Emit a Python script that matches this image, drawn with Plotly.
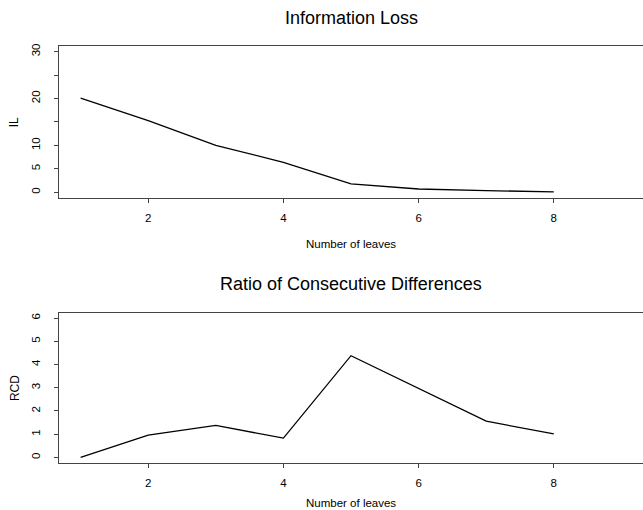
import plotly.graph_objects as go

leaves = [1, 2, 3, 4, 5, 6, 7, 8]
il_values = [20.1, 15.3, 10.0, 6.4, 1.8, 0.7, 0.35, 0.1]
rcd_values = [0.0, 0.96, 1.38, 0.83, 4.38, 2.97, 1.56, 1.01]

x_ticks = [2, 4, 6, 8]
il_ticks = [0, 5, 10, 15, 20, 25, 30]
il_ticklabels = ["0", "5", "10", "", "20", "", "30"]
rcd_ticks = [0, 1, 2, 3, 4, 5, 6]
rcd_ticklabels = ["0", "1", "2", "3", "4", "5", "6"]

W, H = 643, 510
L, R, T, B = 58.7, 0, 46, 46.7
ph = H - T - B


def py(p):
    return (H - B - p) / ph


FONT = "Liberation Sans, Arial, sans-serif"

fig = go.Figure()
fig.add_trace(go.Scatter(x=leaves, y=il_values, mode="lines",
                         line=dict(color="black", width=1.3),
                         xaxis="x", yaxis="y", showlegend=False))
fig.add_trace(go.Scatter(x=leaves, y=rcd_values, mode="lines",
                         line=dict(color="black", width=1.3),
                         xaxis="x2", yaxis="y2", showlegend=False))

axis_common = dict(showgrid=False, zeroline=False, showline=True,
                   linecolor="#444", linewidth=1, ticks="outside",
                   ticklen=4, tickcolor="#444",
                   tickfont=dict(family=FONT, size=11.5, color="black"))

fig.update_layout(
    width=W, height=H,
    margin=dict(l=L, r=R, t=T, b=B),
    paper_bgcolor="white", plot_bgcolor="white",
    font=dict(family=FONT, color="black"),
    xaxis=dict(domain=[0, 1], range=[0.68, 9.32], tickvals=x_ticks,
               anchor="y", mirror=True, ticklabelstandoff=5, **axis_common),
    yaxis=dict(domain=[py(198), 1], range=[-1.2, 31.2], tickvals=il_ticks,
               ticktext=il_ticklabels, tickangle=-90, anchor="x",
               ticklabelstandoff=9, **axis_common),
    xaxis2=dict(domain=[0, 1], range=[0.68, 9.32], tickvals=x_ticks,
                anchor="y2", mirror=True, ticklabelstandoff=5, **axis_common),
    yaxis2=dict(domain=[0, py(312.7)], range=[-0.24, 6.24], tickvals=rcd_ticks,
                ticktext=rcd_ticklabels, tickangle=-90, anchor="x2",
                ticklabelstandoff=9, **axis_common),
)

ann = []
cx = 0.5
ann.append(dict(text="Information Loss", x=cx, y=py(18), xref="paper", yref="paper",
                showarrow=False, font=dict(size=18, family=FONT, color="black"),
                xanchor="center", yanchor="middle"))
ann.append(dict(text="Ratio of Consecutive Differences", x=cx, y=py(284.5), xref="paper",
                yref="paper", showarrow=False,
                font=dict(size=18, family=FONT, color="black"),
                xanchor="center", yanchor="middle"))
ann.append(dict(text="Number of leaves", x=cx, y=py(244), xref="paper", yref="paper",
                showarrow=False, font=dict(size=11.5, family=FONT, color="black"),
                xanchor="center", yanchor="middle"))
ann.append(dict(text="Number of leaves", x=cx, y=py(503), xref="paper", yref="paper",
                showarrow=False, font=dict(size=11.5, family=FONT, color="black"),
                xanchor="center", yanchor="middle"))
ann.append(dict(text="IL", x=(14 - L) / (W - L - R), y=py(122), xref="paper", yref="paper",
                showarrow=False, textangle=-90,
                font=dict(size=12, family=FONT, color="black"),
                xanchor="center", yanchor="middle"))
ann.append(dict(text="RCD", x=(14 - L) / (W - L - R), y=py(388), xref="paper", yref="paper",
                showarrow=False, textangle=-90,
                font=dict(size=12, family=FONT, color="black"),
                xanchor="center", yanchor="middle"))
fig.update_layout(annotations=ann)

fig.write_html("out.html", config={"displayModeBar": False},
               post_script="document.body.style.margin='0';document.body.style.overflow='hidden';")
